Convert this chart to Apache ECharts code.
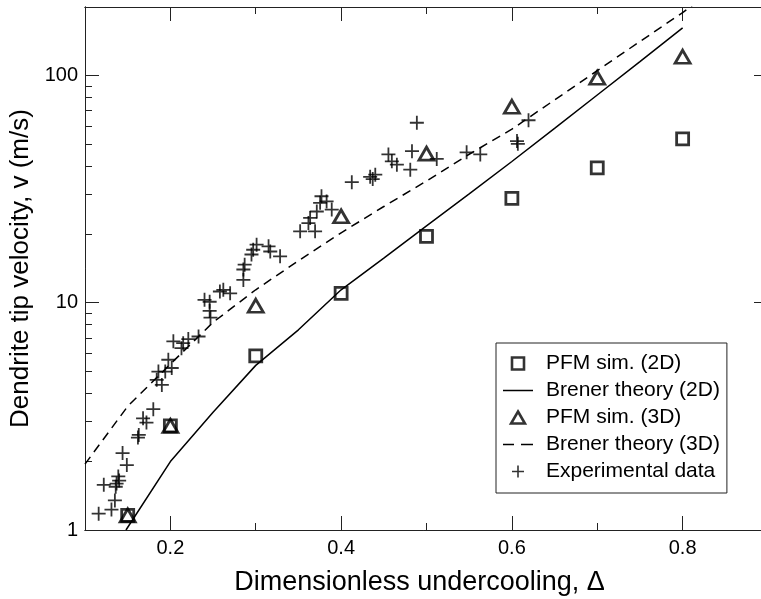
<!DOCTYPE html>
<html>
<head>
<meta charset="utf-8">
<script src="https://cdn.jsdelivr.net/npm/echarts@6.0.0/dist/echarts.min.js"></script>
<style>
  html, body { margin: 0; padding: 0; background: #fff; }
  #first { width: 761px; height: 599px; }
</style>
</head>
<body>
<div id="first"></div>
<script>
  // PFM sim. (2D), squares
  const pfm2dX = [0.15, 0.2, 0.3, 0.4, 0.5, 0.6, 0.7, 0.8]
  const pfm2dV = [1.16, 2.87, 5.84, 11.0, 19.6, 28.8, 39.2, 52.6]
  // PFM sim. (3D), triangles
  const pfm3dX = [0.15, 0.2, 0.3, 0.4, 0.5, 0.6, 0.7, 0.8]
  const pfm3dV = [1.16, 2.87, 9.7, 24.0, 45.3, 72.8, 97.7, 120.8]
  // Brener theory curves
  const brener2dX = [0.148, 0.2, 0.25, 0.3, 0.35, 0.4, 0.45, 0.5, 0.55, 0.6, 0.65, 0.7, 0.75, 0.8]
  const brener2dV = [1.0, 2.0, 3.3, 5.3, 7.6, 11.4, 15.7, 21.8, 30.1, 41.8, 58.5, 82, 115, 162]
  const brener3dX = [0.1, 0.15, 0.2, 0.25, 0.3, 0.35, 0.4, 0.45, 0.5, 0.55, 0.6, 0.65, 0.7, 0.75, 0.8, 0.82]
  const brener3dV = [1.95, 3.5, 5.37, 8.2, 11.4, 15.3, 20.3, 26.5, 34.3, 45, 58, 78, 105, 141, 189, 215]
  // experimental data, crosses
  const expX = [0.116, 0.131, 0.135, 0.122, 0.136, 0.137, 0.139, 0.140, 0.149, 0.144, 0.162, 0.163, 0.168, 0.172, 0.180,
    0.184, 0.190, 0.186, 0.194, 0.1976, 0.2016, 0.2035, 0.213, 0.215, 0.221, 0.233,
    0.240, 0.246, 0.246, 0.247, 0.258, 0.262, 0.270, 0.2855, 0.2855, 0.287, 0.295, 0.297, 0.301, 0.315, 0.317, 0.3285,
    0.352, 0.3617, 0.3637, 0.3695, 0.3715, 0.3754, 0.377, 0.383, 0.389,
    0.4125, 0.434, 0.437, 0.440, 0.4554, 0.4594, 0.4653, 0.481, 0.483, 0.4887, 0.512,
    0.547, 0.563, 0.606, 0.607, 0.6195]
  const expV = [1.18, 1.23, 1.35, 1.58, 1.55, 1.60, 1.72, 1.65, 1.93, 2.18, 2.55, 2.62, 3.10, 2.97, 3.40,
    4.58, 4.35, 4.98, 4.98, 5.61, 5.16, 6.76, 6.31, 6.64, 6.92, 7.1,
    10.3, 10.1, 9.2, 8.6, 11.2, 11.4, 11.0, 12.6, 14.0, 14.7, 16.3, 17.1, 18.0, 17.7, 16.8, 16.0,
    20.6, 22.4, 23.6, 20.6, 25.2, 27.5, 29.4, 27.9, 25.7,
    33.9, 35.8, 35.0, 36.6, 44.9, 41.9, 40.5, 38.5, 46.4, 61.9, 42.9,
    45.9, 44.9, 51.4, 50.0, 63.5]
  // axis ticks
  const xMajor = [0.2, 0.4, 0.6, 0.8]
  const xMinor = [0.1, 0.3, 0.5, 0.7, 0.9]
  const yMajor = [1, 10, 100]
  const yMinor = [2, 3, 4, 5, 6, 7, 8, 9, 20, 30, 40, 50, 60, 70, 80, 90, 200]

  const pairs = (xs, ys) => xs.map((x, i) => [x, ys[i]])
  const font = 'Liberation Sans, Arial, sans-serif'
  const frame = { color: '#222', width: 1 }
  const crossPath = 'path://M0,5L10,5M5,0L5,10'
  const hollow = { color: 'rgba(0,0,0,0)', borderColor: '#000', borderWidth: 2.8 }

  function xAxisDef (position, ticks, len, labels) {
    return {
      type: 'value',
      min: 0.1,
      max: 0.9,
      position: position,
      axisLine: { show: true, onZero: false, lineStyle: frame },
      axisTick: { show: true, inside: true, length: len, customValues: ticks, lineStyle: frame },
      axisLabel: labels ? { customValues: ticks, fontSize: 20, fontFamily: font, color: '#000', margin: 8 } : { show: false },
      splitLine: { show: false }
    }
  }
  function yAxisDef (position, ticks, len, labels) {
    return {
      type: 'log',
      logBase: 10,
      min: 1,
      max: 200,
      position: position,
      axisLine: { show: true, onZero: false, lineStyle: frame },
      axisTick: { show: true, inside: true, length: len, customValues: ticks, lineStyle: frame },
      axisLabel: labels ? { customValues: ticks, fontSize: 20, fontFamily: font, color: '#000', margin: 7 } : { show: false },
      splitLine: { show: false }
    }
  }

  const xBottom = xAxisDef('bottom', xMajor, 14, true)
  xBottom.name = 'Dimensionless undercooling, \u0394'
  xBottom.nameLocation = 'middle'
  xBottom.nameGap = 39
  xBottom.nameTextStyle = { fontSize: 27, fontFamily: font, color: '#000', padding: [0, 14, 0, 0] }
  const yLeft = yAxisDef('left', yMajor, 14, true)
  yLeft.name = 'Dendrite tip velocity, v (m/s)'
  yLeft.nameLocation = 'middle'
  yLeft.nameGap = 45
  yLeft.nameTextStyle = { fontSize: 26, fontFamily: font, color: '#000' }

  const mainChart = echarts.init(document.getElementById('first'))
  const option = {
    backgroundColor: '#fff',
    animation: false,
    grid: { left: 85, top: 7, right: -7, bottom: 69, containLabel: false, outerBoundsMode: 'none' },
    xAxis: [
      xBottom,
      xAxisDef('bottom', xMinor, 7, false),
      xAxisDef('top', xMajor, 14, false),
      xAxisDef('top', xMinor, 7, false)
    ],
    yAxis: [
      yLeft,
      yAxisDef('left', yMinor, 7, false),
      yAxisDef('right', yMajor, 14, false),
      yAxisDef('right', yMinor, 7, false)
    ],
    legend: {
      orient: 'vertical',
      left: 496,
      top: 343,
      padding: [10, 7, 11, 7],
      itemGap: 6,
      itemWidth: 30,
      itemHeight: 12,
      symbolKeepAspect: true,
      borderColor: '#222',
      borderWidth: 1,
      backgroundColor: '#fff',
      textStyle: { fontSize: 21, fontFamily: font, color: '#000', padding: [0, 0, 0, 8] },
      data: [
        { name: 'PFM sim. (2D)', icon: 'path://M0,0h10v10h-10z', itemStyle: { color: 'rgba(0,0,0,0)', borderColor: '#000', borderWidth: 2.6 } },
        { name: 'Brener theory (2D)', icon: 'path://M0,0h30v1.5h-30z', itemStyle: { color: '#000', borderWidth: 0 } },
        { name: 'PFM sim. (3D)', icon: 'path://M6,0L12,10.4L0,10.4z', itemStyle: { color: 'rgba(0,0,0,0)', borderColor: '#000', borderWidth: 2.6 } },
        { name: 'Brener theory (3D)', icon: 'path://M0,0h11v1.5h-11zM18,0h12v1.5h-12z', itemStyle: { color: '#000', borderWidth: 0 } },
        { name: 'Experimental data', icon: crossPath, itemStyle: { color: 'rgba(0,0,0,0)', borderColor: '#000', borderWidth: 1.6 } }
      ]
    },
    series: [
      {
        name: 'PFM sim. (2D)',
        type: 'scatter',
        symbol: 'rect',
        symbolSize: 12,
        itemStyle: hollow,
        data: pairs(pfm2dX, pfm2dV),
        z: 4
      },
      {
        name: 'Brener theory (2D)',
        type: 'line',
        symbol: 'none',
        lineStyle: { color: '#000', width: 1.5 },
        itemStyle: { color: '#000' },
        data: pairs(brener2dX, brener2dV),
        z: 2
      },
      {
        name: 'PFM sim. (3D)',
        type: 'scatter',
        symbol: 'triangle',
        symbolSize: [15, 13],
        itemStyle: hollow,
        data: pairs(pfm3dX, pfm3dV),
        z: 4
      },
      {
        name: 'Brener theory (3D)',
        type: 'line',
        symbol: 'none',
        lineStyle: { color: '#000', width: 1.5, type: [9, 6] },
        itemStyle: { color: '#000' },
        data: pairs(brener3dX, brener3dV),
        z: 2
      },
      {
        name: 'Experimental data',
        type: 'scatter',
        symbol: crossPath,
        symbolSize: 14,
        itemStyle: { color: 'rgba(0,0,0,0)', borderColor: '#000', borderWidth: 1.8 },
        data: pairs(expX, expV),
        z: 3
      }
    ]
  }
  mainChart.setOption(option)
</script>
</body>
</html>
